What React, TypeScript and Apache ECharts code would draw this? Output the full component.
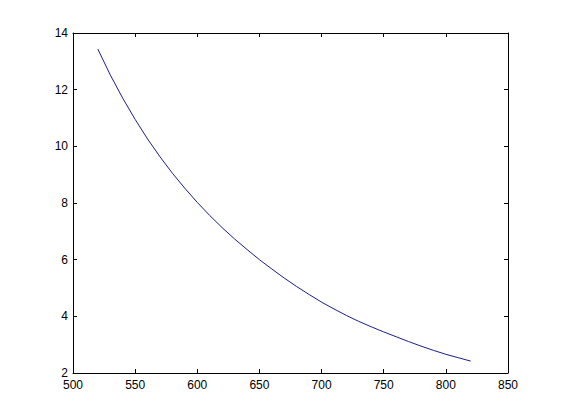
import React, { useEffect, useRef } from "react";
import * as echarts from "echarts";

const xValues = [520, 530, 540, 550, 560, 570, 580, 590, 600, 610, 620, 630, 640, 650, 660, 670, 680, 690, 700, 710, 720, 730, 740, 750, 760, 770, 780, 790, 800, 810, 820];
const yValues = [13.43, 12.52, 11.7, 10.95, 10.26, 9.63, 9.05, 8.52, 8.02, 7.56, 7.13, 6.73, 6.36, 6.0, 5.67, 5.35, 5.05, 4.77, 4.5, 4.26, 4.03, 3.82, 3.63, 3.45, 3.28, 3.11, 2.95, 2.8, 2.66, 2.54, 2.42];

const xTicks = [500, 850, 50];
const yTicks = [2, 14, 2];

export default function App() {
  const ref = useRef<HTMLDivElement>(null);
  useEffect(() => {
    if (!ref.current) return;
    const chart = echarts.init(ref.current, null, { renderer: "svg" });
    const font = { color: "#000", fontSize: 12, fontFamily: "Liberation Sans, Arial, sans-serif" };
    const axisLine = { show: true, lineStyle: { color: "#000", width: 1 } };
    const tick = { show: true, inside: true, length: 4, lineStyle: { color: "#000", width: 1 } };
    chart.setOption({
      animation: false,
      backgroundColor: "#fff",
      grid: { left: 73, top: 33, right: 53, bottom: 47, containLabel: false },
      xAxis: [
        {
          type: "value", min: xTicks[0], max: xTicks[1], interval: xTicks[2], position: "bottom",
          axisLine, axisTick: tick, splitLine: { show: false },
          axisLabel: { ...font, margin: 6 },
        },
        {
          type: "value", min: xTicks[0], max: xTicks[1], interval: xTicks[2], position: "top",
          axisLine, axisTick: tick, splitLine: { show: false }, axisLabel: { show: false },
        },
      ],
      yAxis: [
        {
          type: "value", min: yTicks[0], max: yTicks[1], interval: yTicks[2], position: "left",
          axisLine, axisTick: tick, splitLine: { show: false },
          axisLabel: { ...font, margin: 5 },
        },
        {
          type: "value", min: yTicks[0], max: yTicks[1], interval: yTicks[2], position: "right",
          axisLine, axisTick: tick, splitLine: { show: false }, axisLabel: { show: false },
        },
      ],
      series: [
        {
          type: "line",
          data: xValues.map((x, i) => [x, yValues[i]]),
          showSymbol: false,
          smooth: false,
          lineStyle: { color: "#1c1c8c", width: 1 },
        },
      ],
    });
    return () => chart.dispose();
  }, []);
  return <div ref={ref} style={{ width: 561, height: 420, position: "absolute", left: 0, top: 0 }} />;
}
